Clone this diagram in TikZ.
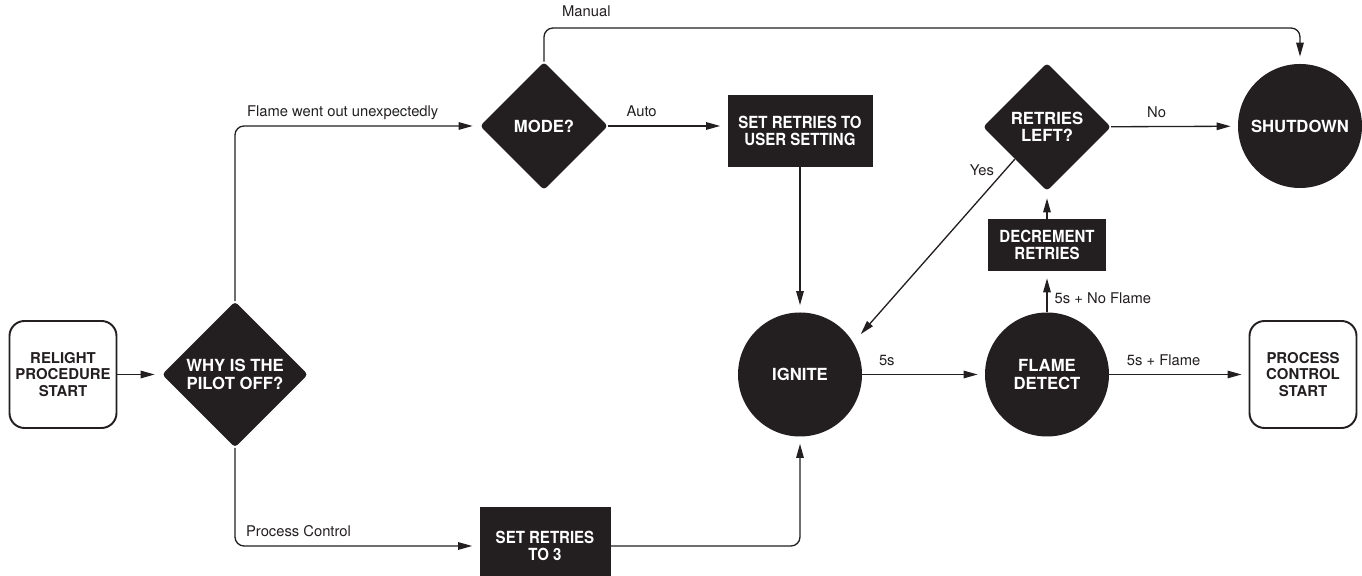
\documentclass[tikz,border=0pt]{standalone}
\usepackage{fontspec}
\setmainfont{TeX Gyre Heros}
\newfontfamily\boxfont{TeX Gyre Heros}[FakeStretch=0.9]
\usetikzlibrary{shapes.geometric, arrows.meta, positioning}

\definecolor{ink}{HTML}{231F20}

\tikzset{
	blk/.style={fill=ink, text=white, font=\bfseries\fontsize{9.5}{10}\selectfont, align=center, inner sep=0pt},
	term/.style={draw=ink, line width=1.1pt, rounded corners=0.3cm, minimum width=2.14cm, minimum height=2.14cm, align=center, inner sep=0pt, text=ink, font=\bfseries\fontsize{8.5}{9.3}\selectfont},
	decision/.style={blk, diamond, rounded corners=2pt, minimum width=2.56cm, minimum height=2.56cm},
	action/.style={blk, rectangle, font=\boxfont\bfseries\fontsize{9.5}{9.2}\selectfont},
	stage/.style={blk, circle, minimum size=2.48cm},
	lbl/.style={font=\fontsize{8.4}{9}\selectfont, text=ink, inner sep=1pt, text height=1.5ex, text depth=0.25ex},
	link/.style={draw=ink, line width=0.75pt, ->, shorten >=0.14cm},
	>={Triangle[length=0.28cm, width=0.15cm]},
}

\begin{document}
\begin{tikzpicture}
				\useasboundingbox (0,0) rectangle (27.24,11.52);
				% Entry and exit points
				\node[term] (relight) at (1.26,4.03) {RELIGHT\\PROCEDURE\\START};
				\node[term] (pcs) at (26.06,4.03) {PROCESS\\CONTROL\\START};
				% Decisions
				\node[decision, minimum width=2.92cm, minimum height=2.92cm, font=\bfseries\fontsize{9.5}{10.5}\selectfont] (why) at (4.70,4.03) {WHY IS THE\\PILOT OFF?};
				\node[decision] (mode) at (10.88,9.0) {MODE?};
				\node[decision] (retries) at (20.94,8.98) {RETRIES\\LEFT?};
				% Actions
				\node[action, minimum width=2.9cm, minimum height=1.44cm] (setuser) at (16.0,8.9) {SET RETRIES TO\\USER SETTING};
				\node[action, minimum width=2.62cm, minimum height=1.56cm] (set3) at (10.9,0.6) {SET RETRIES\\TO 3};
				\node[action, minimum width=2.36cm, minimum height=1.04cm] (decr) at (20.94,6.62) {DECREMENT\\RETRIES};
				% States
				\node[stage] (ignite) at (16.0,4.03) {IGNITE};
				\node[stage] (flame) at (20.94,4.03) {FLAME\\DETECT};
				\node[stage] (shutdown) at (26.0,9.0) {SHUTDOWN};
				\coordinate (manual) at (10.88,10.96);
				% Connectors
				\draw[link] (relight) -- (why);
				\draw[link, rounded corners=0.18cm] (why.north) |- (mode.west) node[lbl, above=2.5pt, pos=0.72] {Flame went out unexpectedly};
				\draw[link, rounded corners=0.18cm] (why.south) |- (set3.west) node[lbl, above=2.5pt, pos=0.63] {Process Control};
				\draw[link, rounded corners=0.18cm] (set3.east) -| (ignite.south);
				\draw[link] (mode.east) -- (setuser.west |- mode.east) node[lbl, above=2.5pt, pos=0.28] {Auto};
				\draw[link, rounded corners=0.18cm] (mode.north) -- (manual) -| (shutdown.north) node[lbl, above=4pt, pos=0.028] {Manual};
				\draw[link] (setuser.south) -- (ignite.north);
				\draw[link] (ignite) -- (flame) node[lbl, above=2.5pt, pos=0.2] {5s};
				\draw[link] (flame) -- (decr) node[lbl, right=3pt, pos=0.36] {5s + No Flame};
				\draw[link] (decr) -- (retries);
				\draw[link] (retries) -- (shutdown) node[lbl, above=2.5pt, pos=0.36] {No};
				\draw[link] (flame) -- (pcs) node[lbl, above=2.5pt, pos=0.39] {5s + Flame};
				\draw[link, shorten >=0.22cm] (retries.south west) -- (ignite.31) node[lbl, pos=0.06, left=5pt] {Yes};
			\end{tikzpicture}
\end{document}
